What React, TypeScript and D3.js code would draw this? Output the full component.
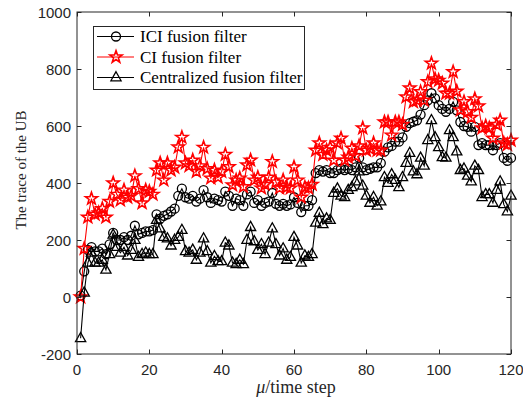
import React, { useEffect, useRef } from "react";
import * as d3 from "d3";

const steps: number[] = d3.range(1, 121);

const ciValues: number[] = [
  0, 170, 280, 345, 290, 295, 310, 280, 335, 400,
  360, 340, 375, 350, 355, 425, 380, 330, 375, 370,
  360, 445, 470, 410, 470, 445, 455, 526, 560, 470,
  460, 480, 440, 460, 525, 450, 417, 445, 420, 440,
  500, 457, 393, 410, 417, 387, 463, 480, 410, 420,
  382, 395, 420, 475, 403, 382, 410, 385, 382, 456,
  410, 350, 385, 382, 395, 515, 540, 500, 515, 525,
  480, 540, 557, 480, 490, 522, 495, 530, 593, 515,
  520, 540, 515, 515, 614, 614, 568, 614, 614, 605,
  702, 733, 685, 690, 720, 690, 755, 820, 765, 760,
  750, 715, 715, 790, 722, 656, 685, 650, 630, 695,
  670, 593, 600, 593, 557, 605, 620, 540, 535, 550,
];

const iciValues: number[] = [
  5, 90, 165, 175, 160, 160, 170, 150, 185, 225,
  200, 200, 210, 200, 215, 250, 220, 225, 230, 230,
  235, 290, 275, 285, 290, 300, 310, 355, 380, 350,
  345, 355, 335, 345, 375, 350, 330, 345, 340, 335,
  370, 355, 320, 345, 340, 320, 360, 370, 330, 340,
  320, 330, 335, 365, 327, 320, 327, 320, 325, 350,
  330, 298, 320, 320, 340, 435, 445, 440, 445, 435,
  435, 445, 450, 445, 450, 445, 455, 488, 455, 445,
  450, 455, 455, 470, 510, 525, 530, 545, 545, 560,
  597, 610, 615, 620, 640, 673, 690, 715, 697, 673,
  660, 650, 660, 685, 655, 614, 600, 597, 580, 597,
  533, 540, 533, 533, 515, 533, 540, 488, 478, 488,
];

const centralizedValues: number[] = [
  -145, 15, 120, 155, 120, 120, 130, 95, 150, 218,
  175, 155, 175, 145, 165, 200, 140, 150, 155, 150,
  150, 270, 240, 210, 205, 180, 200, 210, 235, 160,
  155, 165, 130, 155, 205, 160, 120, 143, 125, 125,
  190, 180, 120, 115, 130, 115, 200, 245, 195, 165,
  185, 150, 190, 240, 185, 145, 170, 130, 140, 210,
  180, 120, 145, 140, 150, 260, 295, 255, 275, 270,
  365, 380, 355, 350, 375, 385, 405, 440, 390, 355,
  330, 350, 320, 335, 420, 400, 430, 410, 385, 420,
  470, 505, 440, 430, 488, 460, 550, 620, 560, 525,
  490, 488, 585, 560, 510, 445, 450, 425, 405, 460,
  445, 350, 360, 360, 330, 375, 405, 325, 300, 355,
];

const xTicks: number[] = [0, 20, 40, 60, 80, 100, 120];
const yTicks: number[] = [-200, 0, 200, 400, 600, 800, 1000];
const legendLabels: string[] = ["ICI fusion filter", "CI fusion filter", "Centralized fusion filter"];

const W = 523;
const H = 406;
const M = { left: 77, right: 511, top: 12, bottom: 354 };
const AXIS = "#262626";

function starPath(R: number): string {
  const r = R * 0.4;
  const pts: [number, number][] = [];
  for (let i = 0; i < 10; i++) {
    const a = -Math.PI / 2 + (i * Math.PI) / 5;
    const rr = i % 2 === 0 ? R : r;
    pts.push([rr * Math.cos(a), rr * Math.sin(a)]);
  }
  return "M" + pts.map((p) => p[0].toFixed(2) + "," + p[1].toFixed(2)).join("L") + "Z";
}
const TRI = "M0,-5.8L5.1,3.3L-5.1,3.3Z";
const STAR = starPath(6.4);

export default function App() {
  const ref = useRef<SVGSVGElement>(null);

  useEffect(() => {
    document.body.style.margin = "0";
    const svg = d3.select(ref.current);
    svg.selectAll("*").remove();

    const x = d3.scaleLinear().domain([0, 120]).range([M.left, M.right]);
    const y = d3.scaleLinear().domain([-200, 1000]).range([M.bottom, M.top]);

    svg.append("rect").attr("x", 0).attr("y", 0).attr("width", W).attr("height", H).attr("fill", "#fff");

    const series = [
      { vals: iciValues, color: "#000", marker: "circle" },
      { vals: ciValues, color: "#ff0000", marker: "star" },
      { vals: centralizedValues, color: "#000", marker: "tri" },
    ];

    const line = d3
      .line<number>()
      .x((_, i) => x(steps[i]))
      .y((d) => y(d));

    const plot = svg.append("g");
    series.forEach((s) => {
      plot
        .append("path")
        .attr("d", line(s.vals) as string)
        .attr("fill", "none")
        .attr("stroke", s.color)
        .attr("stroke-width", 1.1);
      const g = plot.append("g");
      s.vals.forEach((v, i) => {
        const cx = x(steps[i]);
        const cy = y(v);
        if (s.marker === "circle") {
          g.append("circle").attr("cx", cx).attr("cy", cy).attr("r", 4.5)
            .attr("fill", "none").attr("stroke", s.color).attr("stroke-width", 1.3);
        } else {
          g.append("path").attr("d", s.marker === "star" ? STAR : TRI)
            .attr("transform", `translate(${cx},${cy})`)
            .attr("fill", "none").attr("stroke", s.color).attr("stroke-width", s.marker === "star" ? 1.6 : 1.3)
            .attr("stroke-linejoin", "miter");
        }
      });
    });

    // axes box
    const ax = svg.append("g").attr("stroke", AXIS).attr("stroke-width", 1).attr("fill", "none");
    ax.append("rect").attr("x", M.left).attr("y", M.top)
      .attr("width", M.right - M.left).attr("height", M.bottom - M.top);
    const tl = 4.5;
    xTicks.forEach((t) => {
      const px = Math.round(x(t)) + 0.5;
      ax.append("line").attr("x1", px).attr("x2", px).attr("y1", M.bottom).attr("y2", M.bottom - tl);
      ax.append("line").attr("x1", px).attr("x2", px).attr("y1", M.top).attr("y2", M.top + tl);
    });
    yTicks.forEach((t) => {
      const py = Math.round(y(t)) + 0.5;
      ax.append("line").attr("x1", M.left).attr("x2", M.left + tl).attr("y1", py).attr("y2", py);
      ax.append("line").attr("x1", M.right).attr("x2", M.right - tl).attr("y1", py).attr("y2", py);
    });

    const tickFont = "'Liberation Sans', Arial, sans-serif";
    xTicks.forEach((t) => {
      svg.append("text").attr("x", x(t)).attr("y", 375)
        .attr("text-anchor", "middle").attr("font-family", tickFont).attr("font-size", 15)
        .attr("fill", AXIS).text(String(t));
    });
    yTicks.forEach((t) => {
      svg.append("text").attr("x", 71).attr("y", y(t) + 5.5)
        .attr("text-anchor", "end").attr("font-family", tickFont).attr("font-size", 15)
        .attr("fill", AXIS).text(String(t));
    });

    const serif = "'Liberation Serif', 'Times New Roman', serif";
    svg.append("text")
      .attr("transform", "translate(26,170) rotate(-90)")
      .attr("text-anchor", "middle").attr("font-family", serif).attr("font-size", 15)
      .attr("fill", AXIS).text("The trace of the UB");

    const xt = svg.append("text").attr("x", 296).attr("y", 393)
      .attr("text-anchor", "middle").attr("font-family", serif).attr("font-size", 18)
      .attr("fill", AXIS);
    xt.append("tspan").attr("font-style", "italic").text("μ");
    xt.append("tspan").text("/time step");

    // legend
    const lg = svg.append("g");
    lg.append("rect").attr("x", 93.5).attr("y", 26.5).attr("width", 211).attr("height", 63)
      .attr("fill", "#fff").attr("stroke", AXIS).attr("stroke-width", 1);
    const rowsY = [36.5, 57, 77.5];
    series.forEach((s, i) => {
      const yy = rowsY[i];
      lg.append("line").attr("x1", 97).attr("x2", 134).attr("y1", yy).attr("y2", yy)
        .attr("stroke", s.color).attr("stroke-width", 1.1);
      if (s.marker === "circle") {
        lg.append("circle").attr("cx", 116).attr("cy", yy).attr("r", 4.5)
          .attr("fill", "none").attr("stroke", s.color).attr("stroke-width", 1.3);
      } else {
        lg.append("path").attr("d", s.marker === "star" ? STAR : TRI)
          .attr("transform", `translate(116,${yy})`)
          .attr("fill", "none").attr("stroke", s.color).attr("stroke-width", s.marker === "star" ? 1.6 : 1.3);
      }
      lg.append("text").attr("x", 140).attr("y", yy + 5.5)
        .attr("font-family", serif).attr("font-size", 17).attr("fill", "#000")
        .text(legendLabels[i]);
    });
  }, []);

  return <svg ref={ref} width={W} height={H} style={{ display: "block" }} />;
}
